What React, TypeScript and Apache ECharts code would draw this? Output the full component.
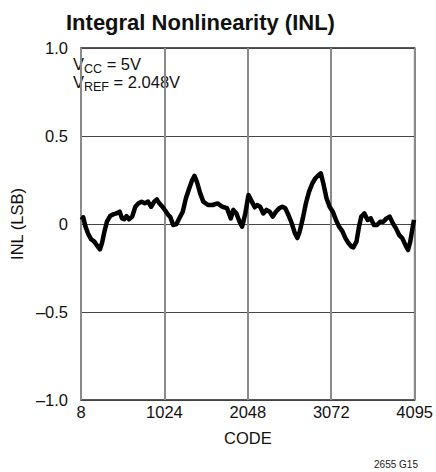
import React, { useEffect, useRef } from "react";
import * as echarts from "echarts";

const codes = [8, 27, 55, 85, 125, 163, 201, 233, 259, 287, 318, 357, 396, 434, 474, 504, 532, 559, 590, 628, 667, 706, 745, 783, 823, 861, 899, 931, 958, 997, 1036, 1074, 1094, 1132, 1172, 1210, 1249, 1288, 1327, 1365, 1393, 1423, 1463, 1501, 1559, 1617, 1676, 1734, 1792, 1839, 1870, 1908, 1947, 1978, 2017, 2056, 2094, 2133, 2161, 2199, 2238, 2277, 2316, 2354, 2393, 2432, 2470, 2509, 2548, 2587, 2626, 2656, 2684, 2723, 2761, 2800, 2839, 2878, 2917, 2944, 2975, 3014, 3052, 3091, 3130, 3168, 3208, 3246, 3285, 3324, 3343, 3382, 3413, 3441, 3479, 3518, 3557, 3596, 3634, 3673, 3712, 3750, 3789, 3828, 3867, 3906, 3944, 3983, 4015, 4042, 4073, 4088];
const inl = [0.023, 0.038, -0.015, -0.053, -0.087, -0.1, -0.125, -0.144, -0.106, -0.044, 0.013, 0.045, 0.055, 0.06, 0.07, 0.032, 0.027, 0.045, 0.027, 0.042, 0.098, 0.118, 0.127, 0.118, 0.127, 0.098, 0.127, 0.14, 0.12, 0.1, 0.075, 0.05, 0.042, -0.006, 0.0, 0.035, 0.07, 0.146, 0.2, 0.25, 0.273, 0.24, 0.174, 0.127, 0.108, 0.108, 0.117, 0.098, 0.09, 0.032, 0.08, 0.06, 0.013, -0.015, 0.06, 0.165, 0.13, 0.095, 0.108, 0.098, 0.06, 0.08, 0.07, 0.042, 0.07, 0.089, 0.098, 0.089, 0.05, 0.004, -0.053, -0.08, -0.044, 0.032, 0.118, 0.184, 0.23, 0.26, 0.278, 0.288, 0.23, 0.146, 0.098, 0.07, 0.023, -0.015, -0.04, -0.08, -0.11, -0.13, -0.133, -0.1, -0.015, 0.042, 0.06, 0.023, 0.032, -0.006, -0.006, 0.013, 0.013, 0.032, 0.042, 0.004, -0.025, -0.063, -0.08, -0.12, -0.148, -0.1, -0.015, 0.023];

const xTickLabels = ["8", "1024", "2048", "3072", "4095"];
const yTickLabels = ["\u20131.0", "\u20130.5", "0", "0.5", "1.0"];

const FONT = "'Liberation Sans', Arial, sans-serif";

export default function App() {
  const ref = useRef<HTMLDivElement>(null);
  useEffect(() => {
    if (!ref.current) return;
    const chart = echarts.init(ref.current, null, { renderer: "svg" });
    const data = codes.map((c, i) => [c, inl[i]]);
    chart.setOption({
      animation: false,
      backgroundColor: "#ffffff",
      title: {
        text: "Integral Nonlinearity (INL)",
        left: 66,
        top: 11,
        padding: 0,
        textStyle: { fontFamily: FONT, fontSize: 22, fontWeight: "bold", color: "#111" },
      },
      grid: { left: 66, right: 18, top: 48, bottom: 72, show: true, borderColor: "#222", borderWidth: 1.5 },
      xAxis: {
        type: "value",
        min: 0,
        max: 4096,
        interval: 1024,
        name: "CODE",
        nameLocation: "middle",
        nameGap: 29,
        nameTextStyle: { fontFamily: FONT, fontSize: 16.5, color: "#111" },
        axisLine: { show: false },
        axisTick: { show: false },
        axisLabel: {
          margin: 3,
          fontFamily: FONT,
          fontSize: 16.5,
          color: "#111",
          formatter: (v: number) => xTickLabels[Math.round(v / 1024)] ?? "",
        },
        splitLine: { show: true, lineStyle: { color: "#8a8a8a", width: 2 } },
      },
      yAxis: {
        type: "value",
        min: -1,
        max: 1,
        interval: 0.5,
        name: "INL (LSB)",
        nameLocation: "middle",
        nameGap: 38,
        nameTextStyle: { fontFamily: FONT, fontSize: 16.5, color: "#111" },
        axisLine: { show: false },
        axisTick: { show: false },
        axisLabel: {
          margin: 13,
          fontFamily: FONT,
          fontSize: 16.5,
          color: "#111",
          formatter: (v: number) => yTickLabels[Math.round((v + 1) / 0.5)] ?? "",
        },
        splitLine: { show: true, lineStyle: { color: "#444", width: 1 } },
      },
      series: [
        {
          type: "line",
          data,
          showSymbol: false,
          symbol: "none",
          lineStyle: { color: "#000", width: 4.5, join: "round" },
          z: 5,
        },
      ],
      graphic: [
        {
          type: "text",
          left: 73,
          top: 55,
          style: {
            text: "{v|V}{s|CC}{v| = 5V}\n{v|V}{s|REF}{v| = 2.048V}",
            rich: {
              v: { fontFamily: FONT, fontSize: 16.5, lineHeight: 18, verticalAlign: "top", fill: "#111" },
              s: { fontFamily: FONT, fontSize: 12.5, lineHeight: 18, verticalAlign: "top", padding: [7, 0, 0, 0], fill: "#111" },
            },
          },
        },
        {
          type: "text",
          right: 18,
          top: 459,
          style: { text: "2655 G15", fontFamily: FONT, fontSize: 10, fill: "#222", textAlign: "right" },
        },
      ],
    });
    return () => chart.dispose();
  }, []);
  return <div ref={ref} style={{ position: "fixed", left: 0, top: 0, width: 436, height: 472 }} />;
}
